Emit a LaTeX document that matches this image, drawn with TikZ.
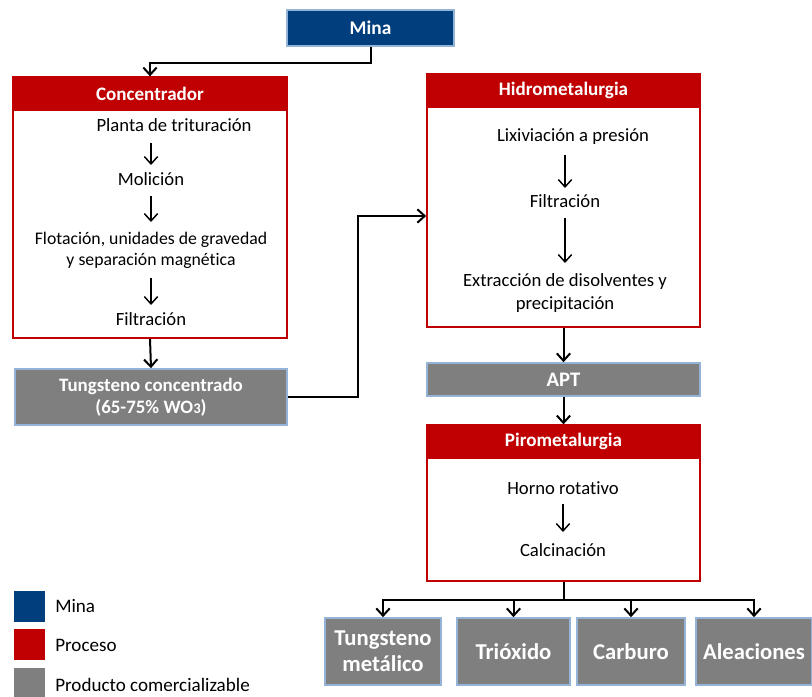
\documentclass[tikz,border=0pt]{standalone}
\usepackage{fontspec}
\setmainfont{Carlito}[Ligatures=NoCommon]
\usetikzlibrary{arrows.meta}
\definecolor{minablue}{RGB}{0,62,126}
\definecolor{procred}{RGB}{192,0,0}
\definecolor{prodgray}{RGB}{127,127,127}
\definecolor{edgeblue}{RGB}{149,179,215}
\begin{document}
\begin{tikzpicture}[x=0.75pt,y=-0.75pt,
  box/.style={rectangle,inner sep=0pt,align=center},
  minabox/.style={box,fill=minablue,draw=edgeblue,line width=1pt,text=white,font=\fontsize{14.5}{17}\selectfont\bfseries},
  headbox/.style={box,fill=procred,draw=procred,line width=1pt,text=white,font=\fontsize{14.3}{17}\selectfont\bfseries},
  bodybox/.style={box,fill=white,draw=procred,line width=1.2pt},
  prodbox/.style={box,fill=prodgray,draw=edgeblue,line width=1.2pt,text=white,font=\fontsize{14.2}{16.5}\selectfont\bfseries},
  bigprod/.style={prodbox,font=\fontsize{17}{19.5}\selectfont\bfseries},
  txt/.style={inner sep=1pt,align=center,font=\fontsize{14}{16}\selectfont},
  legsq/.style={rectangle,inner sep=0pt,minimum width=23.25pt,minimum height=23.25pt},
  legtxt/.style={anchor=west,inner sep=0pt,font=\fontsize{14.3}{16}\selectfont},
  arr/.style={-{Straight Barb[length=5.5pt,width=10pt]},line width=1.5pt},
  iarr/.style={-{Straight Barb[length=5.5pt,width=10pt]},line width=1.1pt},
  ln/.style={line width=1.5pt}]
\useasboundingbox (0,0) rectangle (812,696);

% Mina
\node[minabox,minimum width=125.25pt,minimum height=27pt] (mina) at (370.5,28) {Mina};

% Concentrador
\node[headbox,minimum width=205.5pt,minimum height=24.75pt] (cH) at (150,93.5) {Concentrador};
\node[bodybox,minimum width=205.5pt,minimum height=171pt] (cB) at (150,224) {};
\node[txt] (c1) at (174,125) {Planta de trituración};
\node[txt] (c2) at (151,179) {Molición};
\node[txt,font=\fontsize{13.3}{15.75}\selectfont] (c3) at (151,250.5) {Flotación, unidades de gravedad\\y separación magnética};
\node[txt] (c4) at (151,319) {Filtración};
\draw[iarr] (c2.north |- 0,143) -- (c2.north |- 0,165);
\draw[iarr] (c3.north |- 0,196) -- (c3.north |- 0,222);
\draw[iarr] (c4.north |- 0,278) -- (c4.north |- 0,305);

% Tungsteno concentrado
\node[prodbox,minimum width=204pt,minimum height=42pt] (tc) at (151,397) {Tungsteno concentrado\\(65-75\% WO{\fontsize{11}{12}\selectfont 3})};

% Hidrometalurgia
\node[headbox,minimum width=204.75pt,minimum height=24.75pt] (hH) at (563.5,90.5) {Hidrometalurgia};
\node[bodybox,minimum width=204.75pt,minimum height=165pt] (hB) at (563.5,217) {};
\node[txt] (h1) at (573,137) {Lixiviación a presión};
\node[txt] (h2) at (565,201) {Filtración};
\node[txt,font=\fontsize{14}{17.25}\selectfont] (h3) at (565,293.5) {Extracción de disolventes y\\precipitación};
\draw[iarr] (h2.north |- 0,155) -- (h2.north |- 0,188);
\draw[iarr] (h3.north |- 0,218) -- (h3.north |- 0,263);

% APT
\node[prodbox,font=\fontsize{15.5}{18}\selectfont\bfseries,minimum width=204.75pt,minimum height=24.75pt] (apt) at (563.5,379.5) {APT};

% Pirometalurgia
\node[headbox,minimum width=204.75pt,minimum height=24.75pt] (pH) at (563.5,441.5) {Pirometalurgia};
\node[bodybox,minimum width=204.75pt,minimum height=92.25pt] (pB) at (563.5,519.5) {};
\node[txt] (p1) at (563,488) {Horno rotativo};
\node[txt] (p2) at (563,550) {Calcinación};
\draw[iarr] (p2.north |- 0,504) -- (p2.north |- 0,532);

% Products
\node[bigprod,minimum width=87pt,minimum height=50.25pt] (tm) at (383,651.5) {Tungsteno\\metálico};
\node[bigprod,minimum width=84.75pt,minimum height=50.25pt] (tri) at (513.5,651.5) {Trióxido};
\node[bigprod,minimum width=81pt,minimum height=50.25pt] (car) at (631,651.5) {Carburo};
\node[bigprod,minimum width=87pt,minimum height=50.25pt] (ale) at (754,651.5) {Aleaciones};

% Legend
\node[legsq,fill=minablue] (l1) at (29.5,606.5) {};
\node[legsq,fill=procred] (l2) at (29.5,644.5) {};
\node[legsq,fill=prodgray] (l3) at (29.5,683.5) {};
\node[legtxt] (lt1) at (55,606) {Mina};
\node[legtxt] (lt2) at (55,645) {Proceso};
\node[legtxt] (lt3) at (55,685) {Producto comercializable};

% Connectors
\draw[arr] (mina.south) -- ++(0,16) -| (cH.north);
\draw[arr] (cB.south) -- (tc.north);
\coordinate (j) at (358,216);
\draw[arr] (tc.east) -| (j) -- (hB.west |- j);
\draw[arr] (hB.south) -- (apt.north);
\draw[arr] (apt.south) -- (pH.north);
\coordinate (split) at (563.5,600);
\draw[ln] (pB.south) -- (split);
\draw[ln] ([xshift=-0.75pt]tm.north |- split) -- ([xshift=0.75pt]ale.north |- split);
\draw[arr] (tm.north |- split) -- (tm.north);
\draw[arr] (tri.north |- split) -- (tri.north);
\draw[arr] (car.north |- split) -- (car.north);
\draw[arr] (ale.north |- split) -- (ale.north);
\end{tikzpicture}
\end{document}
